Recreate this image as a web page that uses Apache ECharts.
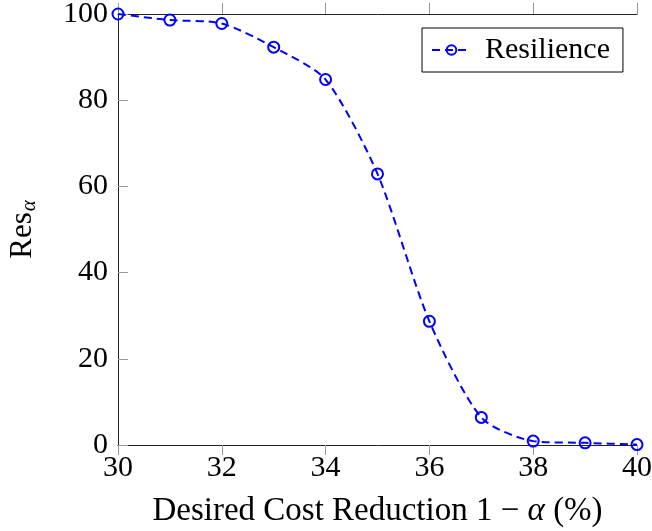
<!DOCTYPE html>
<html>
<head>
<meta charset="utf-8">
<script src="https://cdn.jsdelivr.net/npm/echarts@6/dist/echarts.min.js"></script>
<style>html,body{margin:0;padding:0;background:#fff;}#c{width:652px;height:531px;}</style>
</head>
<body>
<div id="c"></div>
<script>
const xValues = [30, 31, 32, 33, 34, 35, 36, 37, 38, 39, 40];
const resilience = [100, 98.6, 97.8, 92.3, 84.8, 62.9, 28.7, 6.4, 0.9, 0.5, 0.1];
const seriesName = 'Resilience';
const xTitleParts = ['Desired Cost Reduction 1 \u2212 ', '\u03b1', ' (%)'];

const FONT = 'Liberation Serif';
const chart = echarts.init(document.getElementById('c'), null, {renderer: 'canvas'});
chart.setOption({
  animation: false,
  backgroundColor: '#fff',
  textStyle: {fontFamily: FONT, color: '#000'},
  grid: {left: 118, right: 15, top: 14, bottom: 86, containLabel: false, outerBoundsMode: 'none'},
  legend: {
    data: [seriesName],
    left: 422, top: 28,
    itemWidth: 39, itemHeight: 12, itemGap: 6,
    padding: [7, 13, 7, 9],
    borderColor: '#000', borderWidth: 1,
    textStyle: {fontFamily: FONT, fontSize: 30, color: '#000', padding: [0, 0, 0, 9]}
  },
  xAxis: [{
    type: 'value', min: 30, max: 40, interval: 2, position: 'bottom',
    name: '{n|' + xTitleParts[0] + '}{i|' + xTitleParts[1] + '}{n|' + xTitleParts[2] + '}',
    nameLocation: 'middle', nameGap: 50,
    nameTextStyle: {
      rich: {
        n: {fontFamily: FONT, fontSize: 33, color: '#000'},
        i: {fontFamily: FONT, fontSize: 33, color: '#000', fontStyle: 'italic'}
      }
    },
    axisLine: {show: true, onZero: false, lineStyle: {color: '#222', width: 1}},
    axisTick: {show: true, inside: false, length: 10, lineStyle: {color: '#999'}},
    axisLabel: {fontFamily: FONT, fontSize: 30, color: '#000', margin: 8},
    splitLine: {show: false}
  }, {
    type: 'value', min: 30, max: 40, interval: 2, position: 'top',
    axisLine: {show: true, onZero: false, lineStyle: {color: '#222', width: 1}},
    axisTick: {show: true, inside: false, length: 11, lineStyle: {color: '#999'}},
    axisLabel: {show: false},
    splitLine: {show: false}
  }],
  yAxis: {
    type: 'value', min: 0, max: 100, interval: 20,
    name: '{a|Res}{s|\u03b1}', nameLocation: 'middle', nameGap: 78, nameRotate: 90,
    nameTextStyle: {
      rich: {
        a: {fontFamily: FONT, fontSize: 31, color: '#000'},
        s: {fontFamily: FONT, fontSize: 21, color: '#000', fontStyle: 'italic', verticalAlign: 'bottom', padding: [14, 0, 0, 1]}
      }
    },
    axisLine: {show: true, onZero: false, lineStyle: {color: '#222', width: 1}},
    axisTick: {show: true, inside: true, length: 10, lineStyle: {color: '#999'}},
    axisLabel: {fontFamily: FONT, fontSize: 30, color: '#000', margin: 10},
    splitLine: {show: false}
  },
  series: [{
    name: seriesName,
    type: 'line',
    data: xValues.map((x, i) => [x, resilience[i]]),
    smooth: 0.25,
    symbol: 'circle',
    symbolSize: 11,
    clip: false,
    lineStyle: {color: '#0000ff', width: 2, type: [8, 5]},
    itemStyle: {color: 'rgba(255,255,255,0)', borderColor: '#0000ff', borderWidth: 2}
  }]
});
</script>
</body>
</html>
